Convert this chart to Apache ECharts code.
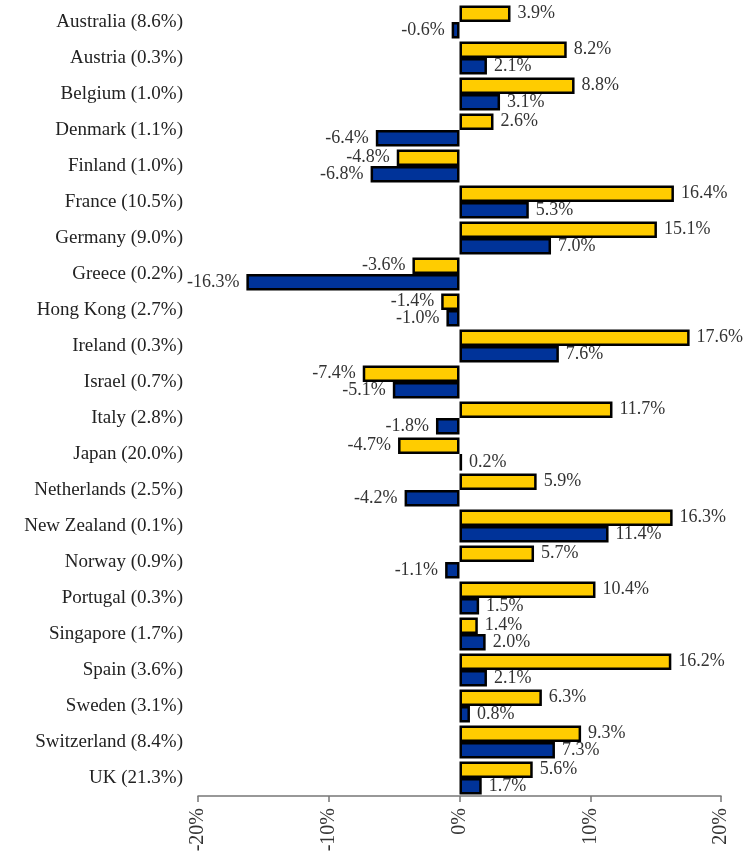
<!DOCTYPE html>
<html>
<head>
<meta charset="utf-8">
<script src="https://cdn.jsdelivr.net/npm/echarts@6/dist/echarts.min.js"></script>
<style>html,body{margin:0;padding:0;background:#fff}#c{width:756px;height:855px}</style>
</head>
<body>
<div id="c"></div>
<script>
const categories = ["Australia (8.6%)","Austria (0.3%)","Belgium (1.0%)","Denmark (1.1%)","Finland (1.0%)","France (10.5%)","Germany (9.0%)","Greece (0.2%)","Hong Kong (2.7%)","Ireland (0.3%)","Israel (0.7%)","Italy (2.8%)","Japan (20.0%)","Netherlands (2.5%)","New Zealand (0.1%)","Norway (0.9%)","Portugal (0.3%)","Singapore (1.7%)","Spain (3.6%)","Sweden (3.1%)","Switzerland (8.4%)","UK (21.3%)"];
const yellowValues = [3.9,8.2,8.8,2.6,-4.8,16.4,15.1,-3.6,-1.4,17.6,-7.4,11.7,-4.7,5.9,16.3,5.7,10.4,1.4,16.2,6.3,9.3,5.6];
const blueValues = [-0.6,2.1,3.1,-6.4,-6.8,5.3,7.0,-16.3,-1.0,7.6,-5.1,-1.8,0.2,-4.2,11.4,-1.1,1.5,2.0,2.1,0.8,7.3,1.7];
const xTicks = [-20,-10,0,10,20];

const FONT = "'Liberation Serif', 'DejaVu Serif', serif";
function items(vals){
  return vals.map(v => ({value: v, label: {position: v < 0 ? 'left' : 'right'}}));
}
function series(vals, color){
  return {
    type: 'bar',
    data: items(vals),
    barGap: '0%',
    barCategoryGap: '8%',
    itemStyle: {color: color, borderColor: '#000', borderWidth: 2.5},
    label: {show: true, distance: 7, fontFamily: FONT, fontSize: 18, color: '#333',
      formatter: p => p.value.toFixed(1) + '%'},
    silent: true, animation: false
  };
}
const chart = echarts.init(document.getElementById('c'));
chart.setOption({
  animation: false,
  grid: {left: 198, right: 35, top: 4, bottom: 59, containLabel: false},
  xAxis: {
    type: 'value', min: xTicks[0], max: xTicks[xTicks.length-1], interval: 10,
    axisLine: {show: true, lineStyle: {color: '#777', width: 1.5}},
    axisTick: {show: true, length: 6, lineStyle: {color: '#777', width: 1.5}},
    splitLine: {show: false},
    axisLabel: {rotate: 90, fontFamily: FONT, fontSize: 20, color: '#333', margin: 12,
      formatter: v => v + '%'}
  },
  yAxis: {
    type: 'category', data: categories, inverse: true,
    axisLine: {show: false}, axisTick: {show: false},
    axisLabel: {fontFamily: FONT, fontSize: 19, color: '#222', margin: 15}
  },
  series: [series(yellowValues, '#FFCC00'), series(blueValues, '#003399')]
});
</script>
</body>
</html>
